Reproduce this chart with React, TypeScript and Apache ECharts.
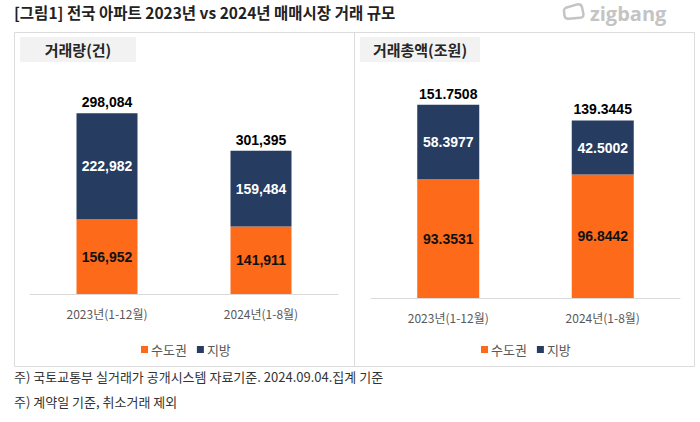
import React, { useEffect, useRef } from "react";
import * as echarts from "echarts";

const categories = ["2023년(1-12월)", "2024년(1-8월)"];
const seriesNames = ["수도권", "지방"];
// 거래량(건)
const volumeCapital = [156952, 141911];
const volumeLocal = [222982, 159484];
const volumeTotalLabels = ["298,084", "301,395"];
// 거래총액(조원)
const amountCapital = [93.3531, 96.8442];
const amountLocal = [58.3977, 42.5002];
const amountTotalLabels = ["151.7508", "139.3445"];

const ORANGE = "#FD6A1A";
const NAVY = "#263C60";
const FONT = "'Noto Sans CJK KR', 'Noto Sans', sans-serif";
const NUMFONT = "'Liberation Sans', Arial, sans-serif";

const fmtInt = (v: number) => v.toLocaleString("en-US");
const fmt4 = (v: number) => v.toFixed(4);

echarts.graphic.registerShape(
  "zbLogo",
  echarts.graphic.extendPath(
    "M3,5 L15,1.5 Q19,0.5 20,4.5 L21.5,11.5 Q22,15.5 18,15.5 L6,16.5 Q2,17 1.5,13 L1,8 Q1,6 3,5 Z",
    {}
  ) as any
);

export default function App() {
  const ref = useRef<HTMLDivElement>(null);
  useEffect(() => {
    if (!ref.current) return;
    const chart = echarts.init(ref.current, undefined, { renderer: "svg" });
    const barLabel = (color: string, f: (v: number) => string) => ({
      show: true,
      position: "inside" as const,
      color,
      fontFamily: NUMFONT,
      fontWeight: "bold" as const,
      fontSize: 14,
      formatter: (p: any) => f(p.value),
    });
    const totalLabel = (labels: string[]) => ({
      show: true,
      position: "top" as const,
      distance: 4,
      color: "#000",
      opacity: 1,
      textBorderWidth: 0,
      fontFamily: NUMFONT,
      fontWeight: "bold" as const,
      fontSize: 14,
      formatter: (p: any) => labels[p.dataIndex],
    });
    const xAxisCommon = {
      type: "category" as const,
      data: categories,
      axisLine: { show: true, lineStyle: { color: "#d9d9d9", width: 1 } },
      axisTick: { show: false },
      axisLabel: { color: "#595959", fontSize: 12, fontFamily: FONT, margin: 13 },
    };
    const legendCommon = {
      data: seriesNames,
      icon: "rect",
      itemWidth: 7,
      itemHeight: 7,
      itemGap: 10,
      top: 338,
      textStyle: { color: "#595959", fontSize: 13, fontFamily: FONT, padding: [0, 0, 0, -2] },
      selectedMode: false,
    };
    chart.setOption({
      animation: false,
      backgroundColor: "#ffffff",
      grid: [
        { left: 30, right: 362, top: 80, bottom: 128 },
        { left: 371, right: 20, top: 75, bottom: 124 },
      ],
      xAxis: [
        { ...xAxisCommon, gridIndex: 0 },
        { ...xAxisCommon, gridIndex: 1 },
      ],
      yAxis: [
        { type: "value", gridIndex: 0, min: 0, max: 450000, show: false, splitLine: { show: false } },
        { type: "value", gridIndex: 1, min: 0, max: 175, show: false, splitLine: { show: false } },
      ],
      legend: [
        { ...legendCommon, left: 136 },
        { ...legendCommon, left: 476 },
      ],
      series: [
        {
          name: seriesNames[0], type: "bar", stack: "v", xAxisIndex: 0, yAxisIndex: 0,
          barWidth: 61, data: volumeCapital, itemStyle: { color: ORANGE },
          label: barLabel("#111", fmtInt),
        },
        {
          name: seriesNames[1], type: "bar", stack: "v", xAxisIndex: 0, yAxisIndex: 0,
          barWidth: 61, data: volumeLocal, itemStyle: { color: NAVY },
          label: barLabel("#ffffff", fmtInt),
        },
        {
          name: "totalV", type: "scatter", xAxisIndex: 0, yAxisIndex: 0, symbolSize: 0,
          itemStyle: { opacity: 1 },
          data: volumeCapital.map((v, i) => v + volumeLocal[i]),
          label: totalLabel(volumeTotalLabels),
        },
        {
          name: seriesNames[0], type: "bar", stack: "a", xAxisIndex: 1, yAxisIndex: 1,
          barWidth: 62, data: amountCapital, itemStyle: { color: ORANGE },
          label: barLabel("#111", fmt4),
        },
        {
          name: seriesNames[1], type: "bar", stack: "a", xAxisIndex: 1, yAxisIndex: 1,
          barWidth: 62, data: amountLocal, itemStyle: { color: NAVY },
          label: barLabel("#ffffff", fmt4),
        },
        {
          name: "totalA", type: "scatter", xAxisIndex: 1, yAxisIndex: 1, symbolSize: 0,
          itemStyle: { opacity: 1 },
          data: amountCapital.map((v, i) => v + amountLocal[i]),
          label: totalLabel(amountTotalLabels),
        },
      ],
      graphic: [
        {
          type: "text", left: 14, top: 4,
          style: {
            text: "[그림1] 전국 아파트 2023년 vs 2024년 매매시장 거래 규모",
            fill: "#222", font: `bold 15.5px ${FONT}`,
          },
        },
        {
          type: "zbLogo", x: 563, y: 3, scaleX: 0.95, scaleY: 0.95,
          style: { fill: "none", stroke: "#c4c4c4", lineWidth: 2.6 },
        },
        {
          type: "text", left: 590, top: 3,
          style: { text: "zigbang", fill: "#c4c4c4", font: `bold 20px ${"'Open Sans', 'Noto Sans', sans-serif"}` },
        },
        {
          type: "rect", shape: { x: 14.5, y: 32.5, width: 680, height: 334 },
          style: { fill: "none", stroke: "#dcdcdc", lineWidth: 1 },
        },
        {
          type: "line", shape: { x1: 354.5, y1: 32.5, x2: 354.5, y2: 366.5 },
          style: { stroke: "#dcdcdc", lineWidth: 1 },
        },
        {
          type: "rect", shape: { x: 20, y: 37, width: 116, height: 25 },
          style: { fill: "#f2f2f2" },
        },
        {
          type: "text", x: 78, y: 49.5,
          style: { text: "거래량(건)", fill: "#262626", font: `bold 15px ${FONT}`, align: "center", verticalAlign: "middle" },
        },
        {
          type: "rect", shape: { x: 360, y: 37, width: 120, height: 25 },
          style: { fill: "#f2f2f2" },
        },
        {
          type: "text", x: 420, y: 49.5,
          style: { text: "거래총액(조원)", fill: "#262626", font: `bold 15px ${FONT}`, align: "center", verticalAlign: "middle" },
        },
        {
          type: "text", left: 14, top: 370,
          style: { text: "주) 국토교통부 실거래가 공개시스템 자료기준. 2024.09.04.집계 기준", fill: "#333", font: `13px ${FONT}` },
        },
        {
          type: "text", left: 14, top: 395,
          style: { text: "주) 계약일 기준, 취소거래 제외", fill: "#333", font: `13px ${FONT}` },
        },
      ],
    });
    return () => chart.dispose();
  }, []);
  return (
    <div
      ref={ref}
      style={{ position: "absolute", left: 0, top: 0, width: 700, height: 422 }}
    />
  );
}
